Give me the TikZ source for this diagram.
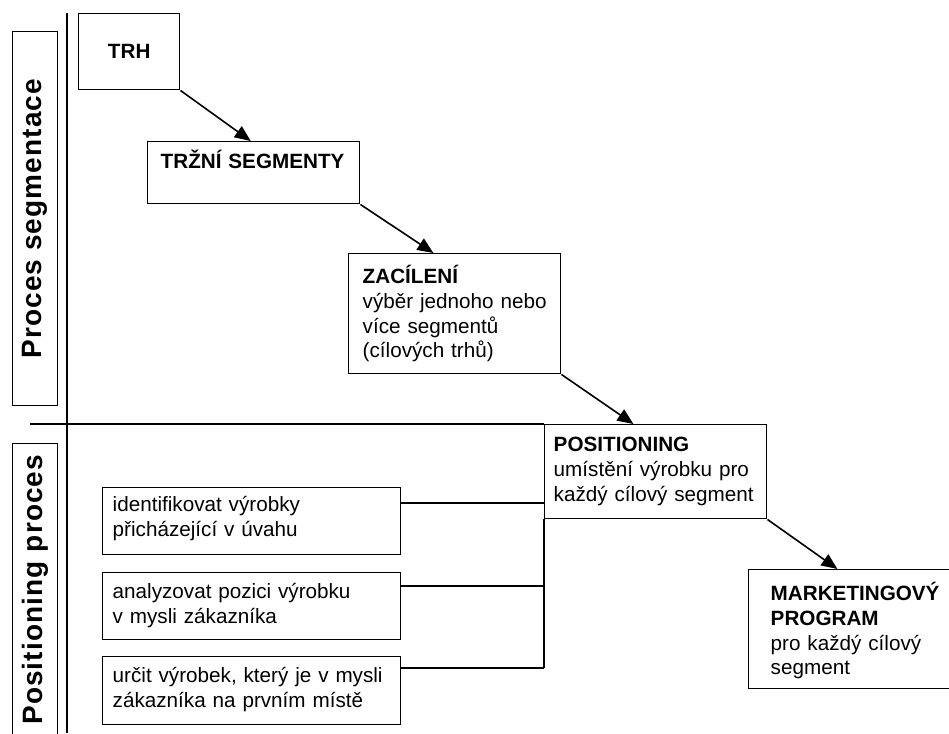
\documentclass[tikz,border=0pt]{standalone}
\usepackage{graphicx}
\usepackage{fontspec}
\setmainfont{Liberation Sans}
\usetikzlibrary{arrows.meta,calc}

\newcommand{\boxfont}{\fontsize{15.5}{18.5}\selectfont}
\newcommand{\sidefont}{\fontsize{21}{24}\selectfont\bfseries\addfontfeatures{LetterSpace=4}}

\tikzset{
	box/.style={draw, line width=1.1pt, anchor=north west, inner ysep=0pt, align=left, font=\boxfont},
	side/.style={draw, line width=1.1pt, anchor=north west, minimum width=33.75pt, inner sep=0pt},
	flow/.style={line width=1.2pt, -{Triangle[length=12pt,width=10pt]}},
	link/.style={line width=1.1pt},
}

\begin{document}
\begin{tikzpicture}[x=0.75pt, y=-0.75pt]
		%%%%% FRAME %%%%%
		\useasboundingbox (0,0) rectangle (949,733);
		\clip (0,0) rectangle (949,733);
		
		\coordinate (axT) at (67,13);
		\coordinate (axB) at (67,733);
		\draw[link] (axT) -- (axB);
		
		\node[side, minimum height=280.5pt] (segL) at (12,31) {\rotatebox{90}{\sidefont Proces segmentace}};
		\node[side, minimum height=219pt] (posL) at (12,443) {\rotatebox{90}{\sidefont Positioning proces}};
		
		%%%%% SEGMENTACE %%%%%
		\node[box, align=center, font=\boxfont\bfseries, minimum width=75.75pt, minimum height=57pt, inner sep=0pt] (trh) at (78,13) {TRH};
		
		\node[box, inner xsep=9.75pt, text width=139.5pt, text height=20.25pt, text depth=26.25pt] (seg) at (147,141) {\textbf{TRŽNÍ SEGMENTY}};
		
		\node[box, inner xsep=10.5pt, text width=138pt, text height=22.5pt, text depth=67.5pt] (zac) at (348,253)
			{\textbf{ZACÍLENÍ}\\ výběr jednoho nebo\\ více segmentů\\ (cílových trhů)};
		
		%%%%% POSITIONING %%%%%
		\node[box, inner xsep=6.75pt, text width=153pt, text height=20.25pt, text depth=50.25pt] (pos) at (544,424)
			{\textbf{POSITIONING}\\ umístění výrobku pro\\ každý cílový segment};
		
		\node[box, inner xsep=16.5pt, text width=162pt, text height=23.25pt, text depth=66pt] (mkt) at (748,569)
			{\textbf{MARKETINGOVÝ}\\ \textbf{PROGRAM}\\ pro každý cílový\\ segment};
		
		\node[box, inner xsep=7.5pt, text width=208.5pt, text height=18pt, text depth=32.25pt] (idv) at (102,487)
			{identifikovat výrobky\\ přicházející v úvahu};
		\node[box, inner xsep=7.5pt, text width=208.5pt, text height=19.5pt, text depth=30.75pt] (ana) at (102,572)
			{analyzovat pozici výrobku\\ v mysli zákazníka};
		\node[box, inner xsep=7.5pt, text width=208.5pt, text height=19.5pt, text depth=31.5pt] (urc) at (102,656)
			{určit výrobek, který je v mysli\\ zákazníka na prvním místě};
		
		%%%%% ARROWS %%%%%
		\draw[flow] (trh.south east) -- ($(seg.north west)!0.486!(seg.north east)$);
		\draw[flow] (seg.south east) -- ($(zac.north west)!0.40!(zac.north east)$);
		\draw[flow] (zac.south east) -- ($(pos.north west)!0.40!(pos.north east)$);
		\draw[flow] (pos.south east) -- ($(mkt.north west)!0.342!(mkt.north east)$);
		
		\coordinate (divL) at (30,424);
		\draw[link] (divL) -- (pos.north west);
		
		\coordinate (idvR) at ($(idv.north east)+(0,16)$);
		\coordinate (anaR) at ($(ana.north east)+(0,14)$);
		\coordinate (urcR) at ($(urc.north east)+(0,12)$);
		\draw[link] (idvR) -- (idvR -| pos.west);
		\draw[link] (anaR) -- (anaR -| pos.west);
		\draw[link] (urcR) -- (urcR -| pos.west);
		\draw[link] (pos.south west) -- (urcR -| pos.west);
		
		%%%%% END %%%%%
\end{tikzpicture}
\end{document}
